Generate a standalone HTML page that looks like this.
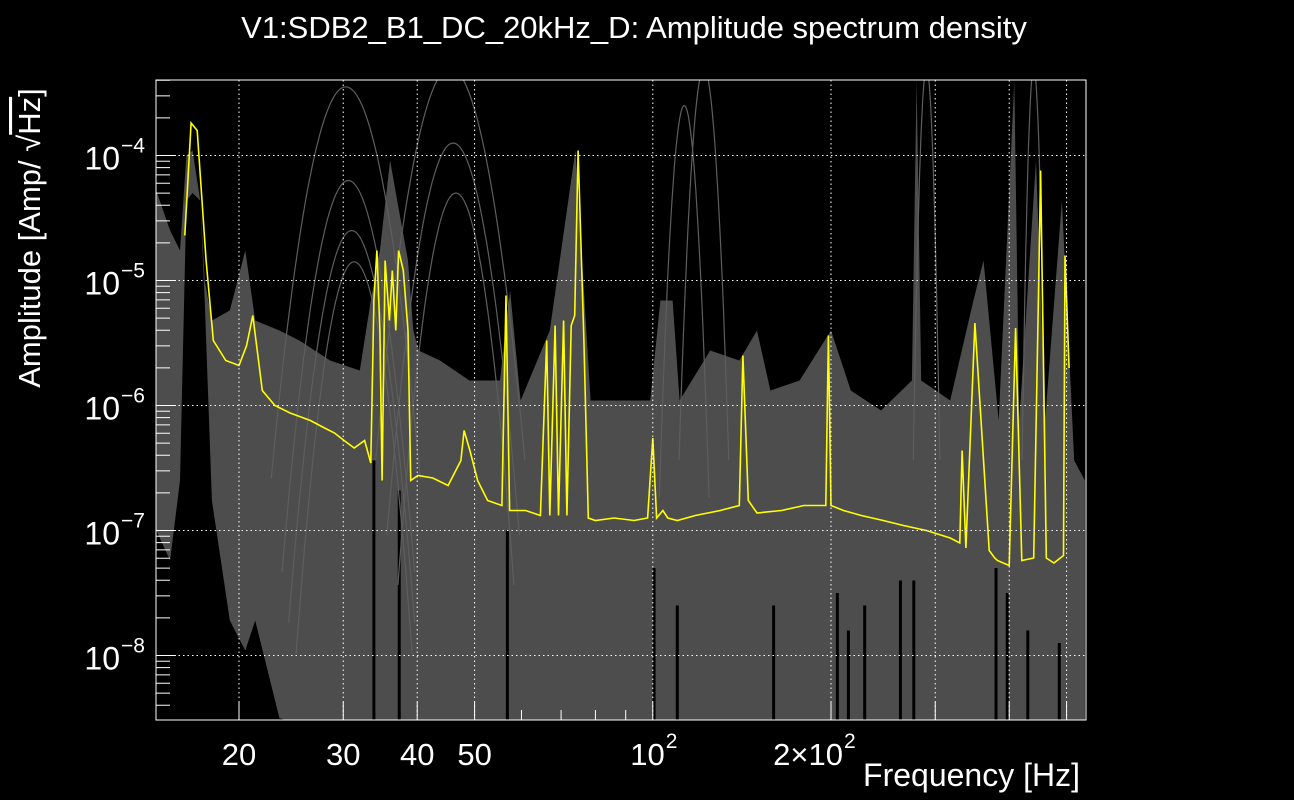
<!DOCTYPE html>
<html><head><meta charset="utf-8">
<style>
html,body{margin:0;padding:0;background:#000;}
svg{display:block;font-family:"Liberation Sans",sans-serif;}
</style></head>
<body>
<svg id="chart" width="1294" height="800" viewBox="0 0 1294 800" xmlns="http://www.w3.org/2000/svg">
<rect x="0" y="0" width="1294" height="800" fill="#000"/>
<text x="634" y="38" fill="#fff" font-size="31" text-anchor="middle">V1:SDB2_B1_DC_20kHz_D: Amplitude spectrum density</text>
<g id="plot"></g>
<text x="1080" y="786" fill="#fff" font-size="32" text-anchor="end">Frequency [Hz]</text>
<g transform="translate(40,238) rotate(-90)">
<text x="0" y="0" fill="#fff" font-size="31" text-anchor="middle">Amplitude [Amp/ √<tspan text-decoration="overline">Hz</tspan>]</text>
</g>
</svg>
<script>
// ---- data ----
const envFreq = [14.5,15.3,15.9,16.3,16.7,17.2,17.5,18.0,19.3,20.5,21.3,23.4,25.3,28.5,32.0,33.4,34.6,36.0,37.0,38.6,39.4,40.2,43.7,49.0,55.2,57.4,59.8,67.0,74.0,78.5,88.1,99.0,103,108,111,125,140,150,158,177,200,216,243,274,279,284,318,348,362,384,408,416,444,460,491,515,537];
const envUpper = [-4.28,-4.6,-4.76,-4.0,-3.96,-4.36,-5.0,-5.32,-5.24,-4.76,-5.32,-5.4,-5.48,-5.64,-5.72,-5.16,-4.76,-4.04,-4.36,-4.84,-5.4,-5.56,-5.64,-5.8,-5.8,-5.08,-5.96,-5.4,-3.96,-5.96,-5.96,-5.96,-5.16,-5.16,-5.96,-5.56,-5.64,-5.4,-5.88,-5.8,-5.4,-5.88,-6.04,-5.8,-3.4,-5.8,-5.96,-5.16,-4.84,-6.12,-3.4,-6.12,-4.04,-6.12,-4.36,-6.44,-6.6];
const envLower = [-7.0,-7.24,-6.6,-4.36,-4.3,-4.36,-5.16,-6.76,-7.72,-7.96,-7.72,-8.5,-8.6,-8.6,-8.6,-8.6,-8.6,-8.6,-8.6,-8.6,-8.6,-8.6,-8.6,-8.6,-8.6,-8.6,-8.6,-8.6,-8.6,-8.6,-8.6,-8.6,-8.6,-8.6,-8.6,-8.6,-8.6,-8.6,-8.6,-8.6,-8.6,-8.6,-8.6,-8.6,-8.6,-8.6,-8.6,-8.6,-8.6,-8.6,-8.6,-8.6,-8.6,-8.6,-8.6,-8.6,-8.6];
// black notches in grey band: frequency, top log10 value
const notchFreq = [33.8,37.3,56.8,100.5,110,160,205,214,228,262,276,380,397,430,486];
const notchTop = [-6.44,-6.68,-7.0,-7.3,-7.6,-7.6,-7.5,-7.8,-7.6,-7.4,-7.4,-7.3,-7.5,-7.8,-7.9];
// faint grey outline arches of individual traces: center freq, peak log10, half-width (decades)
const archFreq = [30.3,30.6,31.0,31.3,45.5,46.0,46.5,113,122,290,440];
const archPeak = [-3.45,-4.2,-4.6,-4.85,-3.3,-3.9,-4.3,-3.6,-3.3,-3.3,-3.3];
const archWidth = [0.045,0.04,0.038,0.035,0.045,0.04,0.035,0.015,0.015,0.008,0.007];
// yellow reference trace
const yFreq = [16.2,16.6,17.0,17.6,18.1,19.0,20.0,20.6,21.1,21.9,23.0,24.4,26.4,27.9,29.0,30.1,31.3,32.6,33.4,33.8,34.2,34.6,34.9,35.3,35.9,36.3,36.8,37.2,37.9,38.6,39.0,40.1,42.5,45.1,47.4,48.0,49.1,50.6,52.6,55.6,56.5,57.3,61.0,64.6,66.2,67.0,68.4,69.3,70.7,71.6,72.8,73.8,74.8,76.5,77.8,80,86,93,98,100,101.5,104,106,110,118,130,140,142,145,150,165,180,196,198,200,210,225,245,265,290,318,330,333,338,350,370,378,382,400,410,420,440,449,452,462,476,494,497,505];
const yLog10 = [-4.64,-3.74,-3.8,-4.84,-5.48,-5.64,-5.68,-5.52,-5.28,-5.88,-6.0,-6.06,-6.12,-6.18,-6.22,-6.28,-6.34,-6.28,-6.46,-5.16,-4.76,-5.4,-6.6,-4.84,-5.32,-4.92,-5.4,-4.76,-4.92,-5.4,-6.6,-6.56,-6.58,-6.64,-6.44,-6.2,-6.36,-6.6,-6.76,-6.8,-5.12,-6.84,-6.84,-6.88,-5.48,-6.88,-5.36,-6.88,-5.32,-6.88,-5.36,-5.28,-3.96,-5.48,-6.9,-6.92,-6.9,-6.92,-6.9,-6.26,-6.9,-6.84,-6.9,-6.92,-6.88,-6.84,-6.8,-5.6,-6.76,-6.86,-6.84,-6.8,-6.8,-5.44,-6.8,-6.84,-6.88,-6.92,-6.96,-7.0,-7.06,-7.1,-6.36,-7.14,-5.34,-7.16,-7.22,-7.24,-7.28,-5.38,-7.24,-7.22,-4.92,-4.12,-7.22,-7.26,-7.2,-4.8,-5.7];
// axis ticks
const xTickVals = [20,30,40,50,100,200];
const xTickLabels = ["20","30","40","50","10²","2×10²"];
const xGridVals = [20,30,40,50,100,200,300,400,500];
const yMajorExp = [-8,-7,-6,-5,-4];

// ---- axes ----
const X0=156, X1=1086, Y0=80, Y1=720;
const fx = f => 239 + 592*Math.log10(f/20);
const fy = l => 155.5 + 125*(-4 - l);
const NS="http://www.w3.org/2000/svg";
const plot=document.getElementById('plot');
function mk(tag, attrs, parent){const e=document.createElementNS(NS,tag);for(const k in attrs)e.setAttribute(k,attrs[k]);(parent||plot).appendChild(e);return e;}
const clip=mk('clipPath',{id:'clipP'});mk('rect',{x:X0,y:Y0,width:X1-X0,height:Y1-Y0},clip);
const g=mk('g',{'clip-path':'url(#clipP)'});



// grey band
let pts=[];
for(let i=0;i<envFreq.length;i++)pts.push(fx(envFreq[i]).toFixed(1)+','+fy(envUpper[i]).toFixed(1));
for(let i=envFreq.length-1;i>=0;i--)pts.push(fx(envFreq[i]).toFixed(1)+','+Math.min(fy(envLower[i]),Y1+5).toFixed(1));
const band=mk('polygon',{points:pts.join(' '),fill:'#4d4d4d'},g);



// notches
for(let i=0;i<notchFreq.length;i++){
 const n=mk('rect',{x:fx(notchFreq[i])-1.5,y:fy(notchTop[i]),width:3,height:Y1-fy(notchTop[i]),fill:'#000'},g);
 
 
}
// arches
for(let i=0;i<archFreq.length;i++){
 const c=Math.log10(archFreq[i]);let d='';
 for(let k=-1.4;k<=1.4001;k+=0.05){
  const lf=c+k*archWidth[i]*2;const v=archPeak[i]-1.6*k*k;
  d+=(d?'L':'M')+fx(Math.pow(10,lf)).toFixed(1)+','+fy(v).toFixed(1);
 }
 const a=mk('path',{d:d,fill:'none',stroke:'#5e5e5e','stroke-width':1.2},g);
 
 
}
// yellow
let yd='';
for(let i=0;i<yFreq.length;i++)yd+=(i?'L':'M')+fx(yFreq[i]).toFixed(1)+','+fy(yLog10[i]).toFixed(1);
const yl=mk('path',{d:yd,fill:'none',stroke:'#ffff00','stroke-width':1.6},g);



// grid
for(const v of xGridVals){
 const l=mk('line',{x1:fx(v),x2:fx(v),y1:Y0,y2:Y1,stroke:'#fff','stroke-dasharray':'1.5,3','stroke-width':1});
 
 
}
for(const e of yMajorExp){
 const l=mk('line',{x1:X0,x2:X1,y1:fy(e),y2:fy(e),stroke:'#fff','stroke-dasharray':'1.5,3','stroke-width':1});
 
 
}
// y ticks
for(let e=-9;e<=-3;e++){
 for(let m=1;m<=9;m++){
  const v=e+Math.log10(m);const y=fy(v);
  if(y<Y0||y>Y1)continue;
  const t=mk('line',{x1:X0,x2:X0+(m===1?20:14),y1:y,y2:y,stroke:'#fff','stroke-width':1});
  
  
 }
}
for(const e of yMajorExp){
 const t=mk('text',{x:120,y:fy(e)+14,fill:'#fff','font-size':32,'text-anchor':'end'});
 t.textContent='10';
 
 
 const s=mk('text',{x:121,y:fy(e)-3,fill:'#fff','font-size':21});
 s.textContent='−'+(-e);
 
 
}
// x ticks
for(let d=10;d<=500;d*=10){for(let m=1;m<=9;m++){const f=d*m;if(f<14.5||f>540)continue;
 const major=xTickVals.includes(f)||f===300||f===400||f===500;
 const t=mk('line',{x1:fx(f),x2:fx(f),y1:Y1,y2:Y1-(major?18:10),stroke:'#fff','stroke-width':1});
 
 
}}
for(let i=0;i<xTickVals.length;i++){
 const lab=xTickLabels[i];
 let t;
 if(lab.includes('²')){
  const base=lab.replace('²','');
  t=mk('text',{x:fx(xTickVals[i])+12,y:765,fill:'#fff','font-size':31,'text-anchor':'end'});
  t.textContent=base;
  const s=mk('text',{x:fx(xTickVals[i])+13,y:748,fill:'#fff','font-size':21});
  s.textContent='2';
  
  
 } else {
  t=mk('text',{x:fx(xTickVals[i]),y:765,fill:'#fff','font-size':31,'text-anchor':'middle'});
  t.textContent=lab;
 }
 
 
}
const fr=mk('rect',{x:X0,y:Y0,width:X1-X0,height:Y1-Y0,fill:'none',stroke:'#fff','stroke-width':1});


</script>
</body></html>
